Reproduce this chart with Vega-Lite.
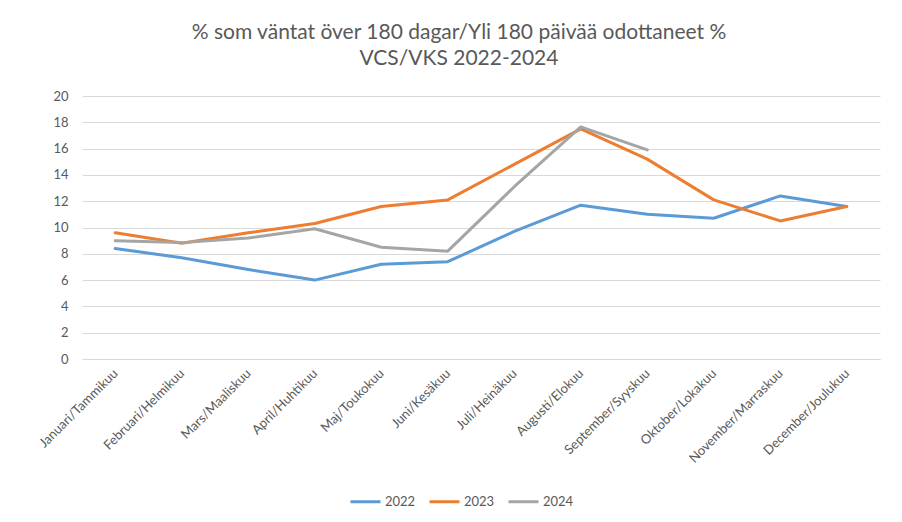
{
  "$schema": "https://vega.github.io/schema/vega-lite/v6.json",
  "autosize": {"type": "none"},
  "width": 798,
  "height": 263,
  "padding": {"left": 82, "top": 96, "right": 22, "bottom": 163},
  "background": "white",
  "config": {
    "font": "Lato",
    "view": {"stroke": null},
    "axis": {"labelFont": "Lato", "labelColor": "#595959"},
    "legend": {"labelFont": "Lato", "labelColor": "#595959"}
  },
  "title": {
    "text": ["% som väntat över 180 dagar/Yli 180 päivää odottaneet %", "VCS/VKS 2022-2024"],
    "anchor": "middle",
    "dx": -22,
    "offset": 21,
    "fontSize": 21,
    "lineHeight": 26,
    "font": "Lato",
    "fontWeight": "normal",
    "color": "#595959"
  },
  "data": {
    "values": [
      {"month": "Januari/Tammikuu", "year": "2022", "value": 8.4},
      {"month": "Februari/Helmikuu", "year": "2022", "value": 7.7},
      {"month": "Mars/Maaliskuu", "year": "2022", "value": 6.8},
      {"month": "April/Huhtikuu", "year": "2022", "value": 6.0},
      {"month": "Maj/Toukokuu", "year": "2022", "value": 7.2},
      {"month": "Juni/Kesäkuu", "year": "2022", "value": 7.4},
      {"month": "Juli/Heinäkuu", "year": "2022", "value": 9.7},
      {"month": "Augusti/Elokuu", "year": "2022", "value": 11.7},
      {"month": "September/Syyskuu", "year": "2022", "value": 11.0},
      {"month": "Oktober/Lokakuu", "year": "2022", "value": 10.7},
      {"month": "November/Marraskuu", "year": "2022", "value": 12.4},
      {"month": "December/Joulukuu", "year": "2022", "value": 11.6},
      {"month": "Januari/Tammikuu", "year": "2023", "value": 9.6},
      {"month": "Februari/Helmikuu", "year": "2023", "value": 8.8},
      {"month": "Mars/Maaliskuu", "year": "2023", "value": 9.6},
      {"month": "April/Huhtikuu", "year": "2023", "value": 10.3},
      {"month": "Maj/Toukokuu", "year": "2023", "value": 11.6},
      {"month": "Juni/Kesäkuu", "year": "2023", "value": 12.1},
      {"month": "Juli/Heinäkuu", "year": "2023", "value": 14.8},
      {"month": "Augusti/Elokuu", "year": "2023", "value": 17.5},
      {"month": "September/Syyskuu", "year": "2023", "value": 15.2},
      {"month": "Oktober/Lokakuu", "year": "2023", "value": 12.1},
      {"month": "November/Marraskuu", "year": "2023", "value": 10.5},
      {"month": "December/Joulukuu", "year": "2023", "value": 11.6},
      {"month": "Januari/Tammikuu", "year": "2024", "value": 9.0},
      {"month": "Februari/Helmikuu", "year": "2024", "value": 8.85},
      {"month": "Mars/Maaliskuu", "year": "2024", "value": 9.2},
      {"month": "April/Huhtikuu", "year": "2024", "value": 9.9},
      {"month": "Maj/Toukokuu", "year": "2024", "value": 8.5},
      {"month": "Juni/Kesäkuu", "year": "2024", "value": 8.2},
      {"month": "Juli/Heinäkuu", "year": "2024", "value": 13.1},
      {"month": "Augusti/Elokuu", "year": "2024", "value": 17.65},
      {"month": "September/Syyskuu", "year": "2024", "value": 15.9}
    ]
  },
  "mark": {"type": "line", "strokeWidth": 3, "strokeCap": "round", "strokeJoin": "round"},
  "encoding": {
    "x": {
      "field": "month",
      "type": "ordinal",
      "sort": null,
      "scale": {"type": "point", "padding": 0.5},
      "axis": {
        "title": null,
        "labelAngle": -45,
        "labelAlign": "right",
        "labelBaseline": "middle",
        "labelPadding": 12,
        "labelFontSize": 13,
        "ticks": false,
        "domainColor": "#d9d9d9",
        "domainWidth": 1,
        "grid": false
      }
    },
    "y": {
      "field": "value",
      "type": "quantitative",
      "scale": {"domain": [0, 20], "nice": false},
      "axis": {
        "title": null,
        "values": [0, 2, 4, 6, 8, 10, 12, 14, 16, 18, 20],
        "domain": false,
        "ticks": false,
        "labelPadding": 14,
        "labelFontSize": 13,
        "gridColor": "#d9d9d9",
        "gridWidth": 1
      }
    },
    "color": {
      "field": "year",
      "type": "nominal",
      "scale": {"domain": ["2022", "2023", "2024"], "range": ["#5b9bd5", "#ed7d31", "#a5a5a5"]},
      "legend": {
        "title": null,
        "orient": "none",
        "direction": "horizontal",
        "legendX": 267,
        "legendY": 389,
        "symbolType": "stroke",
        "symbolStrokeWidth": 3,
        "symbolSize": 900,
        "labelFontSize": 13,
        "columnPadding": 7,
        "labelOffset": 3
      }
    }
  }
}
